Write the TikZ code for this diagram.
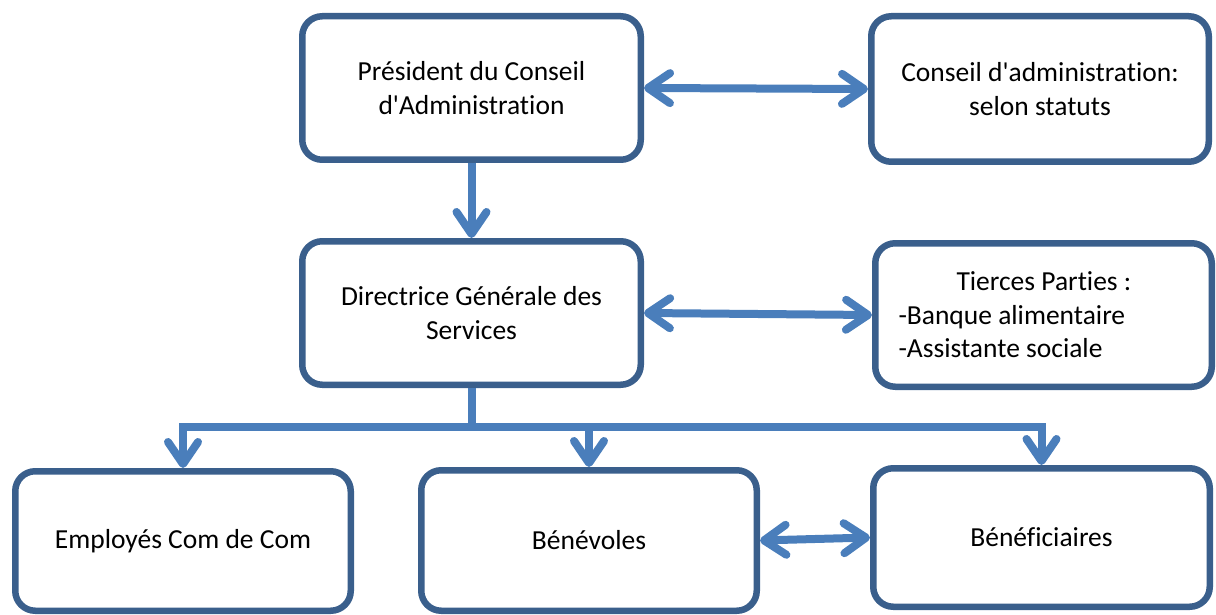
\documentclass[tikz,border=0pt]{standalone}
\usepackage{fontspec}
\setmainfont{Carlito}[Ligatures={TeXOff,CommonOff}]
\usetikzlibrary{arrows.meta}
\definecolor{boxblue}{HTML}{3A5F8C}
\definecolor{arrblue}{HTML}{4A7EBB}
\tikzset{barb/.tip={Straight Barb[length=22pt 0 0,width=30pt 0 0,line cap=round,line join=round]}}
\begin{document}
\begin{tikzpicture}[x=1pt,y=-1pt,
  box/.style={draw=boxblue, line width=6.5pt, rounded corners=20pt, fill=white,
    align=center, inner sep=0pt, font=\fontsize{27.5}{33.5}\selectfont},
  conn/.style={draw=arrblue, line width=8pt}]
\useasboundingbox (0,0) rectangle (1216,615);
\node[box, minimum width=338.5pt, minimum height=143.5pt] (pres) at (471.5,88)
  {Président du Conseil\\d'Administration};
\node[box, minimum width=337.5pt, minimum height=145.5pt] (cons) at (1040,89)
  {Conseil d'administration:\\selon statuts};
\node[box, minimum width=338.5pt, minimum height=143.5pt] (dir) at (471.5,313)
  {Directrice Générale des\\Services};
\node[box, minimum width=336.5pt, minimum height=143.5pt, align=flush left, text width=290pt] (tier) at (1043.5,315)
  {\hspace*{58pt}Tierces Parties :\\-Banque alimentaire\\-Assistante sociale};
\node[box, minimum width=335.5pt, minimum height=139.5pt] (emp) at (183,541)
  {Employés Com de Com};
\node[box, minimum width=335.5pt, minimum height=140.5pt] (benev) at (589,540.5)
  {Bénévoles};
\node[box, minimum width=336.5pt, minimum height=138.5pt] (benef) at (1041.5,537.5)
  {Bénéficiaires};
\coordinate (bus) at (471.5,427);
\draw[conn, barb-barb] (pres.east) -- (cons.west);
\draw[conn, -barb] (pres.south) -- (dir.north);
\draw[conn, barb-barb] (dir.east) -- (tier.west);
\draw[conn] (dir.south) -- (bus);
\draw[conn, -barb] (bus) -| (emp.north);
\draw[conn, -barb] (bus) -| (benev.north);
\draw[conn, -barb] (bus) -| (benef.north);
\draw[conn, barb-barb] (benev.east) -- (benef.west);
\end{tikzpicture}
\end{document}
